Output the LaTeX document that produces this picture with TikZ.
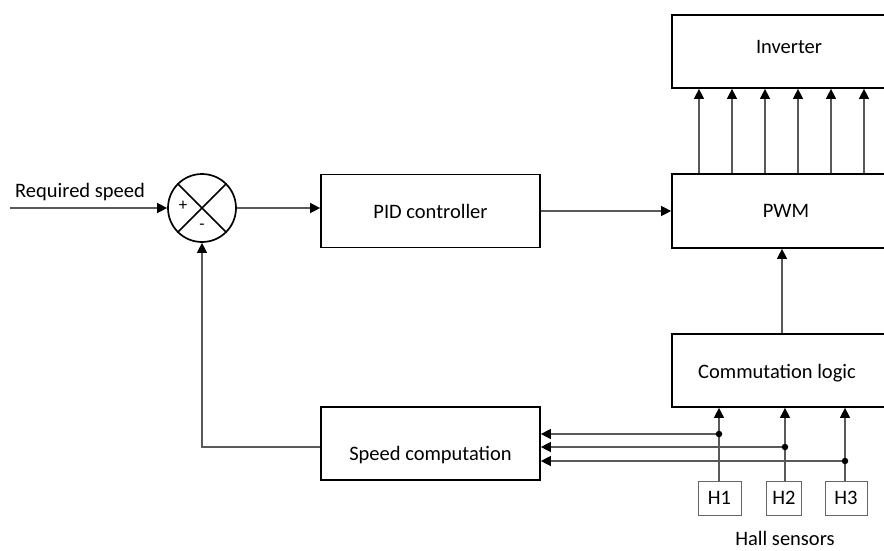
\documentclass[tikz,border=0pt]{standalone}
\usepackage{fontspec}
\setmainfont{Carlito}
\usetikzlibrary{arrows.meta}

\begin{document}
\begin{tikzpicture}[x=1pt,y=-1pt,
  font=\fontsize{20.5}{24}\selectfont,
  box/.style={draw=black, line width=1.7pt, inner sep=0pt, minimum height=73pt},
  hbox/.style={draw=black!60, line width=1pt, inner sep=0pt, minimum height=34pt},
  wire/.style={draw=black!65, line width=1.3pt},
  arr/.style={wire, -{Triangle[length=10pt,width=10pt,color=black]}},
  dot/.style={circle, fill=black, inner sep=0pt, minimum size=6.5pt}]

\useasboundingbox (0,0) rectangle (884,550);
\clip (0,0) rectangle (884,550);

% summing junction
\node[circle, draw, line width=1.7pt, minimum size=68pt, inner sep=0pt] (sum) at (202,208) {};
\draw[line width=1.5pt] (sum.north west) -- (sum.south east);
\draw[line width=1.5pt] (sum.north east) -- (sum.south west);
\node[font=\fontsize{17}{18}\selectfont] (plus) at (183,206) {+};
\node[font=\fontsize{17}{18}\selectfont] (minus) at (202,227) {-};

% blocks
\node[box, minimum width=219pt] (pid) at (430.5,211) {PID controller};
\node[box, minimum width=228pt, minimum height=74pt] (pwm) at (786,211) {PWM};
\node[box, minimum width=228pt] (inv) at (786,51.5) {};
\node (invt) at (789,47) {Inverter};
\node[box, minimum width=228pt] (comm) at (786,370.5) {};
\node (commt) at (777,373) {Commutation logic};
\node[box, minimum width=219pt] (speed) at (430.5,443.5) {};
\node (speedt) at (430.5,455) {Speed computation};

% hall sensors
\node[hbox, minimum width=43pt] (h1) at (719.5,498) {H1};
\node[hbox, minimum width=35pt] (h2) at (784,498) {H2};
\node[hbox, minimum width=42pt] (h3) at (846,498) {H3};
\node (hall) at (785,538) {Hall sensors};

% reference input
\coordinate (rs) at (10,208);
\node (rst) at (80,192) {Required speed};
\draw[arr] (rs) -- (sum.west);

% forward path
\draw[arr] (sum.east) -- (pid.west |- sum.east);
\draw[arr] (pid.east) -- (pwm.west);
\foreach \x in {699,732,765,798,831,864}
  \draw[arr] (\x,0 |- pwm.north) -- (\x,0 |- inv.south);
\draw[arr] (782,0 |- comm.north) -- (782,0 |- pwm.south);

% sensor signals
\coordinate (d1) at (719,434);
\coordinate (d2) at (785,447);
\coordinate (d3) at (845,461);
\draw[arr] (719,0 |- h1.north) -- (719,0 |- comm.south);
\draw[arr] (785,0 |- h2.north) -- (785,0 |- comm.south);
\draw[arr] (845,0 |- h3.north) -- (845,0 |- comm.south);
\draw[arr] (d1) -- (speed.east |- d1);
\draw[arr] (d2) -- (speed.east |- d2);
\draw[arr] (d3) -- (speed.east |- d3);
\node[dot] at (d1) {};
\node[dot] at (d2) {};
\node[dot] at (d3) {};

% feedback
\draw[arr] ([yshift=-3.5pt]speed.west) -| (sum.south);
\end{tikzpicture}
\end{document}
